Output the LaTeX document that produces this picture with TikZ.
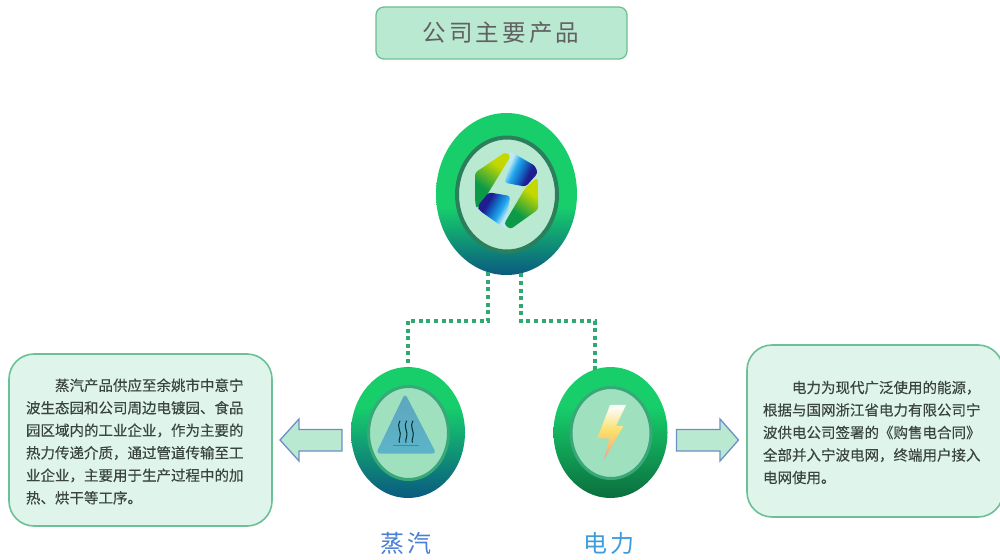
\documentclass[tikz,border=0pt]{standalone}
\usepackage{fontspec}
\usetikzlibrary{shapes.geometric,shapes.arrows}
\newfontfamily\cjk[FakeBold=0.25]{Noto Sans CJK SC}
\newfontfamily\cjkwide[LetterSpace=13]{Noto Sans CJK SC}
\definecolor{topgreen}{HTML}{17CE6B}
\definecolor{deepteal}{HTML}{0A5A80}
\definecolor{deepgreen}{HTML}{0B6E3E}
\definecolor{pale}{HTML}{DFF4EA}
\definecolor{paleborder}{HTML}{6DBF95}
\definecolor{mint}{HTML}{BAE9D2}
\definecolor{innermint}{HTML}{9FE0BF}
\definecolor{dotgreen}{HTML}{2FA873}
\definecolor{ringdark}{HTML}{2B7F5A}
\definecolor{ringsoft}{HTML}{38A878}
\definecolor{arrowline}{HTML}{6F8FC4}
\definecolor{bodytext}{HTML}{3A4440}
\definecolor{hgreen}{HTML}{0C9A48}
\definecolor{hyellow}{HTML}{C4D800}
\definecolor{hpale}{HTML}{BFE8F5}
\definecolor{hlight}{HTML}{22A8EE}
\definecolor{hmid}{HTML}{1264C0}
\definecolor{hdark}{HTML}{1E1E90}
\definecolor{boltA}{HTML}{EE9A98}
\definecolor{boltB}{HTML}{F7C078}
\definecolor{boltC}{HTML}{FBDF6A}
\definecolor{boltD}{HTML}{FDFBF5}
\definecolor{triA}{HTML}{5FA6BE}
\definecolor{triB}{HTML}{5CB4C8}
\definecolor{steamblue}{HTML}{4A7FD6}
\definecolor{elecblue}{HTML}{3F9CDC}
\pgfdeclareverticalshading{tealfade}{100bp}{color(0bp)=(deepteal); color(25bp)=(deepteal); color(46bp)=(topgreen); color(75bp)=(topgreen); color(100bp)=(topgreen)}
\pgfdeclareverticalshading{tealfadeb}{100bp}{color(0bp)=(deepteal); color(25bp)=(deepteal); color(60bp)=(topgreen); color(75bp)=(topgreen); color(100bp)=(topgreen)}
\pgfdeclareverticalshading{greenfade}{100bp}{color(0bp)=(deepgreen); color(25bp)=(deepgreen); color(60bp)=(topgreen); color(75bp)=(topgreen); color(100bp)=(topgreen)}
\pgfdeclareverticalshading{boltfade}{100bp}{color(0bp)=(boltA); color(25bp)=(boltA); color(38bp)=(boltB); color(52bp)=(boltC); color(72bp)=(boltD); color(100bp)=(boltD)}
\pgfdeclareverticalshading{bluesweep}{100bp}{color(0bp)=(hpale); color(32bp)=(hpale); color(42bp)=(hlight); color(54bp)=(hmid); color(64bp)=(hdark); color(100bp)=(hdark)}
\pgfdeclareverticalshading{greensweep}{100bp}{color(0bp)=(hgreen); color(38bp)=(hgreen); color(66bp)=(hyellow); color(100bp)=(hyellow)}
\tikzset{
  disc/.style={ellipse,inner sep=0pt,outer sep=0pt},
  panel/.style={rectangle,inner sep=0pt,outer sep=0pt,fill=pale,draw=paleborder,line width=1.6pt,rounded corners=25pt},
  bodycopy/.style={inner sep=0pt,outer sep=0pt,align=left,anchor=west,text=bodytext,font=\cjk\fontsize{14.5}{22.5}\selectfont},
  dotline/.style={draw=dotgreen,line width=4pt,dash pattern=on 4pt off 3.6pt},
  blockarrow/.style={fill=mint,draw=arrowline,line width=1.3pt,line join=miter},
  logopart/.style={rounded corners=3pt},
  squiggle/.style={draw=black!65!teal,line width=1pt},
}
\begin{document}
\begin{tikzpicture}[x=1pt,y=-1pt]
\useasboundingbox (0,0) rectangle (1000,559);
\clip (0,0) rectangle (1000,559);
\fill[white] (0,0) rectangle (1000,559);

% title
\node[rectangle,inner sep=0pt,fill=mint,draw=paleborder,line width=1.3pt,rounded corners=8pt,minimum width=251pt,minimum height=52pt] (title) at (501.5,33) {};
\node[inner sep=0pt,text=black!62,font=\cjkwide\fontsize{23.5}{26}\selectfont] (titletext) at (501,33) {公司主要产品};

% discs
\node[disc,minimum width=141pt,minimum height=162pt,shading=tealfade] (main) at (506.5,194) {};
\node[disc,minimum width=100pt,minimum height=114pt,fill=mint,draw=ringdark,line width=4pt] (maininner) at (507,194.5) {};
\node[disc,minimum width=114pt,minimum height=131pt,shading=tealfadeb] (steam) at (408,432.5) {};
\node[disc,minimum width=80pt,minimum height=93pt,fill=innermint,draw=ringsoft,line width=3pt] (steaminner) at (408.5,433) {};
\node[disc,minimum width=114pt,minimum height=131pt,shading=greenfade] (elec) at (610.5,432.5) {};
\node[disc,minimum width=80pt,minimum height=91pt,fill=innermint,draw=ringsoft,line width=3pt] (elecinner) at (611,433) {};

% connectors
\coordinate (bend) at (0,320.7);
\draw[dotline] (main.257) -- (main.257 |- bend) -| (steam.north);
\draw[dotline] (main.280) -- (main.280 |- bend) -| (elec.104);

% logo
\begin{scope}[shift={(465,150)},x=0.3333pt,y=-0.3333pt]
  \shade[logopart,shading=greensweep,shading angle=-35]
    (30,68) -- (122,6) -- (137,18) -- (71,127) -- (34,177) -- (30,150) -- cycle;
  \shade[logopart,shading=bluesweep,shading angle=-115]
    (132,2) -- (211,48) -- (218,70) -- (182,110) -- (118,98) -- (136,32) -- cycle;
  \shade[logopart,shading=bluesweep,shading angle=60]
    (71,127) -- (136,138) -- (128,185) -- (126,240) -- (44,182) -- (37,170) -- cycle;
  \shade[logopart,shading=greensweep,shading angle=-35]
    (218,82) -- (220,178) -- (136,238) -- (117,222) -- (182,112) -- cycle;
\end{scope}

% steam icon
\begin{scope}[shift={(370,390)},x=0.3333pt,y=-0.3333pt]
  \shade[rounded corners=4pt,top color=triA,bottom color=triB] (105,10) -- (199,191) -- (18,191) -- cycle;
  \draw[squiggle] (90,92) .. controls (78,108) and (96,128) .. (90,140) .. controls (88,148) and (86,152) .. (88,158);
  \draw[squiggle] (110,92) .. controls (98,108) and (116,128) .. (110,140) .. controls (108,148) and (106,152) .. (108,158);
  \draw[squiggle] (129,92) .. controls (117,108) and (135,128) .. (129,140) .. controls (127,148) and (125,152) .. (127,158);
  \draw[draw=triA!80!black,line width=1pt] (70,168) -- (148,168);
\end{scope}

% bolt icon
\begin{scope}[shift={(540,350)},x=0.3333pt,y=-0.3333pt]
  \shade[shading=boltfade] (210,165) -- (258,165) -- (228,228) -- (250,228) -- (192,330) -- (208,265) -- (172,265) -- cycle;
\end{scope}

% arrows
\draw[blockarrow] (342,429.5) -- (299,429.5) -- (299,419) -- (280,440) -- (299,461) -- (299,451) -- (342,451) -- cycle;
\draw[blockarrow] (676.5,429.5) -- (720,429.5) -- (720,419) -- (738.5,440) -- (720,461) -- (720,451) -- (676.5,451) -- cycle;

% panels
\node[panel,minimum width=263pt,minimum height=172pt] (leftpanel) at (140.5,440) {};
\node[panel,minimum width=256pt,minimum height=172pt] (rightpanel) at (875,431) {};
\node[bodycopy] (lefttext) at (26,441.5) {\hspace*{29pt}蒸汽产品供应至余姚市中意宁\\波生态园和公司周边电镀园、食品\\园区域内的工业企业，作为主要的\\热力传递介质，通过管道传输至工\\业企业，主要用于生产过程中的加\\热、烘干等工序。};
\node[bodycopy] (righttext) at (763,432.5) {\hspace*{29pt}电力为现代广泛使用的能源，\\根据与国网浙江省电力有限公司宁\\波供电公司签署的《购售电合同》\\全部并入宁波电网，终端用户接入\\电网使用。};

% labels
\node[inner sep=0pt,text=steamblue,font=\cjkwide\fontsize{24}{28}\selectfont] (steamlabel) at (406,543) {蒸汽};
\node[inner sep=0pt,text=elecblue,font=\cjkwide\fontsize{24}{28}\selectfont] (eleclabel) at (609,543) {电力};
\end{tikzpicture}
\end{document}
